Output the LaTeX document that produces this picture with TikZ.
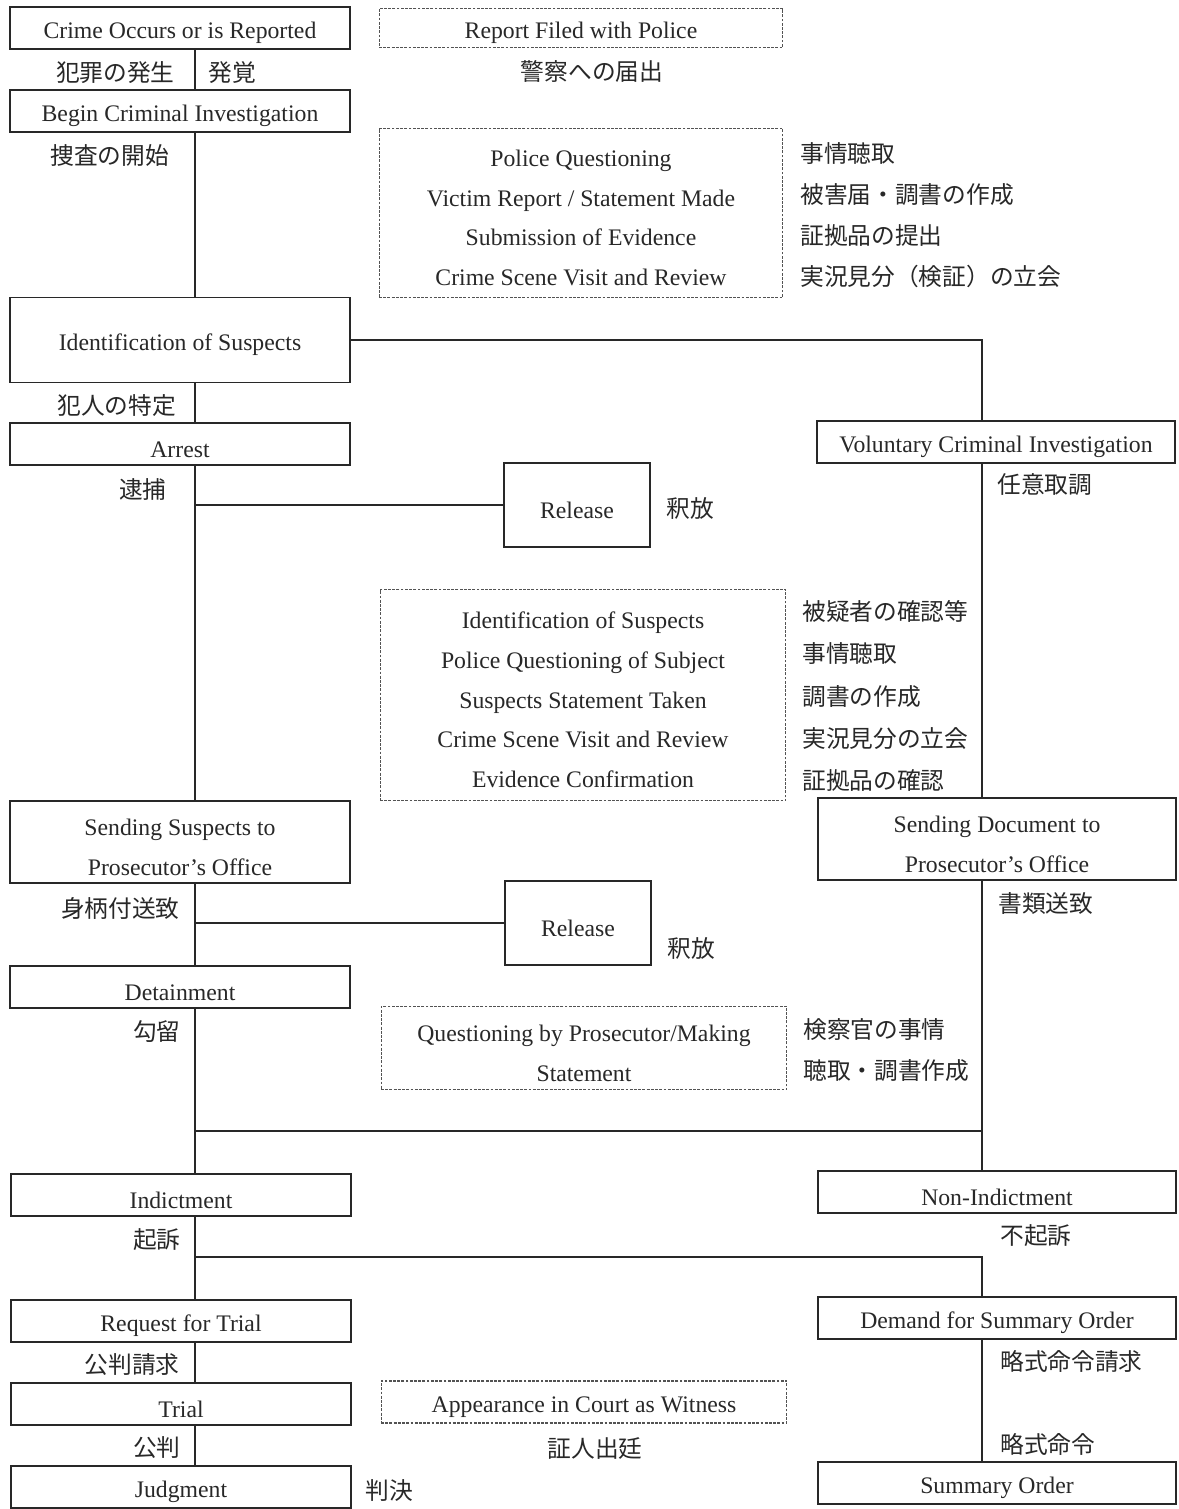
\documentclass[tikz,border=0pt]{standalone}
\usepackage{fontspec}
\setmainfont{Liberation Serif}
\newfontfamily\jpfont{Noto Sans CJK JP}
\definecolor{ink}{RGB}{40,40,40}
\newcommand{\boxlift}{\rule{0pt}{15pt}}

\begin{document}
\begin{tikzpicture}[x=0.02cm,y=-0.02cm,
		every node/.style={text=ink,font=\fontsize{13.5}{22.7}\selectfont},
		lowered/.style={execute at begin node={\boxlift}},
		stage/.style={draw=ink,line width=1.1pt,fill=white,minimum width=6.8cm,minimum height=0.84cm,inner sep=0pt,align=center,lowered},
		rstage/.style={stage,minimum width=7.16cm},
		freebox/.style={stage,minimum width=2.92cm,minimum height=1.68cm},
		note/.style={draw=ink!80,line width=0.6pt,dash pattern=on 1.6pt off 0.8pt,minimum width=8.08cm,inner sep=0pt,align=center,lowered},
		jp/.style={font=\jpfont\fontsize{13.5}{23.4}\selectfont,inner sep=0pt,align=left},
		link/.style={draw=ink,line width=1.2pt}]
		\useasboundingbox (0,0) rectangle (1179,1509);
		\fill[white] (0,0) rectangle (1179,1509);

		% spines
		\coordinate (ls) at (195,0);
		\coordinate (rs) at (982,0);

		% police side
		\node[stage] (crime) at (180,28) {Crime Occurs or is Reported};
		\node[stage] (begin) at (180,111) {Begin Criminal Investigation};
		\node[stage,minimum height=1.7cm] (ident) at (180,340) {Identification of Suspects};
		\node[stage] (arrest) at (180,444) {Arrest};
		\node[freebox] (rel1) at (577,505) {Release};
		\node[stage,minimum height=1.64cm] (sends) at (180,842) {\boxlift Sending Suspects to\\Prosecutor’s Office};
		\node[freebox] (rel2) at (578,923) {Release};
		\node[stage] (detain) at (180,987) {Detainment};
		\node[stage] (indict) at (181,1195) {Indictment};
		\node[stage] (request) at (181,1321) {Request for Trial};
		\node[stage] (trial) at (181,1404) {Trial};
		\node[stage] (judg) at (181,1487) {Judgment};

		% voluntary side
		\node[rstage] (vol) at (996,442) {Voluntary Criminal Investigation};
		\node[rstage,minimum height=1.64cm] (sendd) at (997,839) {\boxlift Sending Document to\\Prosecutor’s Office};
		\node[rstage] (nonind) at (997,1192) {Non-Indictment};
		\node[rstage] (demand) at (997,1318) {Demand for Summary Order};
		\node[rstage] (summ) at (997,1483) {Summary Order};

		% dashed notes
		\node[note,minimum height=0.78cm] (report) at (581,28) {Report Filed with Police};
		\node[note,minimum height=3.38cm] (police) at (581,213) {\boxlift Police Questioning\\Victim Report / Statement Made\\Submission of Evidence\\Crime Scene Visit and Review};
		\node[note,minimum height=4.22cm,minimum width=8.12cm] (idnote) at (583,695) {\boxlift Identification of Suspects\\Police Questioning of Subject\\Suspects Statement Taken\\Crime Scene Visit and Review\\Evidence Confirmation};
		\node[note,minimum height=1.66cm,minimum width=8.12cm] (prosq) at (584,1048) {\boxlift Questioning by Prosecutor/Making\\Statement};
		\node[note,minimum height=0.84cm,minimum width=8.12cm] (appear) at (584,1402) {Appearance in Court as Witness};

		% japanese labels
		\node[jp,anchor=east] (jhassei) at (175,73) {犯罪の発生};
		\node[jp,anchor=west] (jhakkaku) at (208,73) {発覚};
		\node[jp] (jtodoke) at (592,71) {警察への届出};
		\node[jp,anchor=west] (jsousa) at (50,156) {捜査の開始};
		\node[jp,anchor=west] (jpolice) at (800,215) {事情聴取\\被害届・調書の作成\\証拠品の提出\\実況見分（検証）の立会};
		\node[jp,anchor=west] (jtokutei) at (57,406) {犯人の特定};
		\node[jp,anchor=east] (jtaiho) at (167,489) {逮捕};
		\node[jp,anchor=west] (jshaku1) at (666,508) {釈放};
		\node[jp,anchor=west] (jnini) at (997,485) {任意取調};
		\node[jp,anchor=west,font=\jpfont\fontsize{13.5}{24.1}\selectfont] (jid) at (802,696) {被疑者の確認等\\事情聴取\\調書の作成\\実況見分の立会\\証拠品の確認};
		\node[jp,anchor=east] (jmigara) at (180,908) {身柄付送致};
		\node[jp,anchor=west] (jshaku2) at (667,948) {釈放};
		\node[jp,anchor=west] (jshorui) at (998,903) {書類送致};
		\node[jp,anchor=east] (jkouryu) at (181,1032) {勾留};
		\node[jp,anchor=west,font=\jpfont\fontsize{13.5}{23.8}\selectfont] (jkenji) at (803,1050) {検察官の事情\\聴取・調書作成};
		\node[jp,anchor=east] (jkiso) at (181,1240) {起訴};
		\node[jp,anchor=west] (jfukiso) at (1000,1236) {不起訴};
		\node[jp,anchor=east] (jkouhanseikyu) at (180,1365) {公判請求};
		\node[jp,anchor=west] (jryakuseikyu) at (1000,1361) {略式命令請求};
		\node[jp,anchor=east] (jkouhan) at (181,1448) {公判};
		\node[jp] (jshounin) at (595,1448) {証人出廷};
		\node[jp,anchor=west] (jryaku) at (1000,1444) {略式命令};
		\node[jp,anchor=west] (jhanketsu) at (365,1491) {判決};

		% connectors
		\foreach \s/\t in {crime/begin, begin/ident, ident/arrest, arrest/sends, sends/detain, detain/indict, indict/request, request/trial, trial/judg} {
			\draw[link] (\s.south -| ls) -- (\t.north -| ls);
		}
		\foreach \s/\t in {vol/sendd, sendd/nonind, demand/summ} {
			\draw[link] (\s.south -| rs) -- (\t.north -| rs);
		}
		\draw[link] (ident.east) -| (vol.north -| rs);
		\draw[link] (rel1.west -| ls) -- (rel1.west);
		\draw[link] (rel2.west -| ls) -- (rel2.west);
		\coordinate (merge) at (195,1131);
		\draw[link] (merge) -- (merge -| rs);
		\coordinate (split) at (195,1257);
		\draw[link] (split) -| (demand.north -| rs);
	\end{tikzpicture}
\end{document}
